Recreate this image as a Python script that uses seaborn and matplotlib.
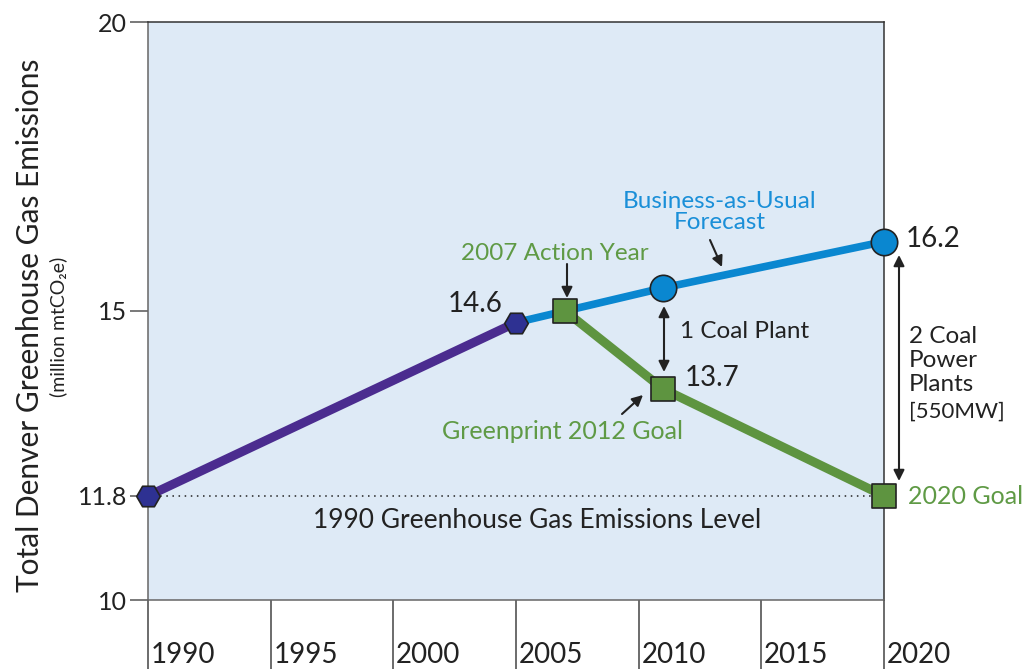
import matplotlib
matplotlib.use("Agg")
import matplotlib.pyplot as plt
import matplotlib.transforms as mtransforms
import seaborn as sns

# values
years_actual = [1990, 2005]
emis_actual = [11.8, 14.8]
years_bau = [2005, 2007, 2011, 2020]
emis_bau = [14.8, 15.0, 15.4, 16.2]
years_goal = [2007, 2011, 2020]
emis_goal = [15.0, 13.65, 11.8]
baseline_1990 = 11.8
x_ticks = [1990, 1995, 2000, 2005, 2010, 2015, 2020]
x_tick_labels = ["1990", "1995", "2000", "2005", "2010", "2015", "2020"]
y_ticks = [10, 11.8, 15, 20]
y_tick_labels = ["10", "11.8", "15", "20"]

PURPLE = "#4b2c8f"
HEX_FILL = "#2e3192"
BLUE = "#0a87d0"
BLUE_TXT = "#1a8fd8"
GREEN = "#5e9440"
GREEN_TXT = "#5f9a45"
DARK = "#222222"
BG = "#deeaf6"

sns.set_theme(style="white")
plt.rcParams["font.family"] = ["Lato", "DejaVu Sans"]

W, H = 1023, 670
fig = plt.figure(figsize=(W / 100, H / 100), dpi=100)
ax = fig.add_axes([148 / W, 70 / H, 736 / W, 578 / H])
ax.set_facecolor(BG)
ax.set_xlim(1990, 2020)
ax.set_ylim(10, 20)

# baseline
ax.axhline(baseline_1990, color=DARK, lw=1.1, ls=(0, (1, 3)), zorder=1)

# lines
sns.lineplot(x=years_bau, y=emis_bau, color=BLUE, lw=5.5, ax=ax, zorder=2)
sns.lineplot(x=years_goal, y=emis_goal, color=GREEN, lw=6.5, ax=ax, zorder=3)
sns.lineplot(x=years_actual, y=emis_actual, color=PURPLE, lw=6.5, ax=ax, zorder=3)

# markers
sns.scatterplot(x=years_bau[2:], y=emis_bau[2:], marker="o", s=19 ** 2, color=BLUE,
                edgecolor=DARK, linewidth=1.2, ax=ax, zorder=5, clip_on=False)
sns.scatterplot(x=years_goal, y=emis_goal, marker="s", s=17 ** 2, color=GREEN,
                edgecolor=DARK, linewidth=1.2, ax=ax, zorder=6, clip_on=False)
sns.scatterplot(x=years_actual, y=emis_actual, marker="H", s=17 ** 2, color=HEX_FILL,
                edgecolor=DARK, linewidth=1.2, ax=ax, zorder=6, clip_on=False)

# axes styling
for side in ["left", "bottom"]:
    ax.spines[side].set_color("#666666")
for side in ["top", "right"]:
    ax.spines[side].set_color("#333333")
for s in ax.spines.values():
    s.set_linewidth(1.1)

ax.set_yticks(y_ticks)
ax.set_yticklabels(y_tick_labels)
ax.tick_params(axis="y", direction="out", length=13, width=1.1, color="#555555",
               labelsize=18, pad=2, labelcolor=DARK, left=True)
ax.set_xticks(x_ticks)
ax.set_xticklabels(x_tick_labels, ha="left")
ax.tick_params(axis="x", direction="out", length=50, width=1.1, color="#444444",
               labelsize=20, pad=-20, labelcolor=DARK, bottom=True)
off = mtransforms.ScaledTranslation(2 / 72, 0, fig.dpi_scale_trans)
for lab in ax.get_xticklabels():
    lab.set_transform(lab.get_transform() + off)


def px(x, y):
    return (1990 + (x - 148) / (736 / 30), 10 + (600 - y) / 57.8)


def txt(x, y, s, **kw):
    ax.text(*px(x, y), s, clip_on=False, **kw)


def arrow(x0, y0, x1, y1, style="-|>"):
    ax.annotate("", xy=px(x1, y1), xytext=px(x0, y0),
                arrowprops=dict(arrowstyle=style, color=DARK, lw=1.5,
                                mutation_scale=16, shrinkA=0, shrinkB=0),
                annotation_clip=False)


txt(503, 304, "14.6", ha="right", va="center", fontsize=20, color=DARK)
txt(555, 253, "2007 Action Year", ha="center", va="center", fontsize=17.5, color=GREEN_TXT)
arrow(567, 264, 567, 298)
txt(720, 212, "Business-as-Usual\nForecast", ha="center", va="center", fontsize=17.5,
    color=BLUE_TXT, linespacing=0.95)
arrow(710, 240, 722, 267)
txt(906, 239, "16.2", ha="left", va="center", fontsize=20, color=DARK)
txt(680, 331, "1 Coal Plant", ha="left", va="center", fontsize=17.5, color=DARK)
arrow(664, 339, 664, 306)
arrow(664, 339, 664, 372)
txt(685, 378, "13.7", ha="left", va="center", fontsize=20, color=DARK)
txt(562, 432, "Greenprint 2012 Goal", ha="center", va="center", fontsize=18, color=GREEN_TXT)
arrow(622, 414, 643, 395)
arrow(899, 368, 899, 255)
arrow(899, 368, 899, 481)
for yy, line in zip([337, 361, 385], ["2 Coal", "Power", "Plants"]):
    txt(909, yy, line, ha="left", va="center", fontsize=17.5, color=DARK)
txt(909, 412, "[550MW]", ha="left", va="center", fontsize=16, color=DARK)
txt(908, 497, "2020 Goal", ha="left", va="center", fontsize=18, color=GREEN_TXT)
txt(537, 520, "1990 Greenhouse Gas Emissions Level", ha="center", va="center",
    fontsize=19, color=DARK)

fig.text(30 / W, 1 - 325 / H, "Total Denver Greenhouse Gas Emissions", rotation=90,
         ha="center", va="center", fontsize=21.5, color=DARK)
fig.text(58 / W, 1 - 327 / H, "(million mtCO₂e)", rotation=90,
         ha="center", va="center", fontsize=14, color=DARK)

fig.savefig("out.png", dpi=100)
